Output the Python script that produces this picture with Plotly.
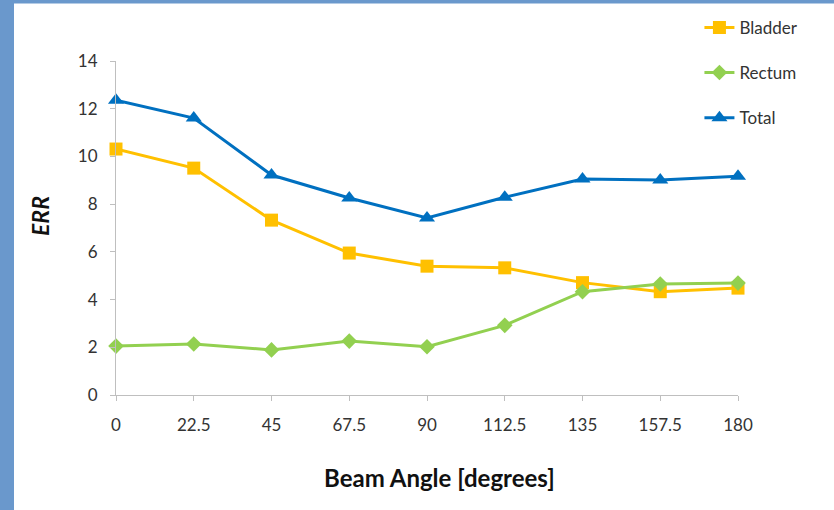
import plotly.graph_objects as go

angles = [0, 22.5, 45, 67.5, 90, 112.5, 135, 157.5, 180]
angle_labels = ["0", "22.5", "45", "67.5", "90", "112.5", "135", "157.5", "180"]
bladder = [10.31, 9.51, 7.33, 5.95, 5.40, 5.33, 4.71, 4.33, 4.48]
rectum = [2.05, 2.14, 1.89, 2.26, 2.02, 2.92, 4.33, 4.65, 4.69]
total = [12.36, 11.61, 9.22, 8.26, 7.42, 8.29, 9.05, 9.01, 9.17]

FONT = "Lato, sans-serif"

fig = go.Figure()
series = [
    ("Bladder", bladder, "#FFC000", "square", 13),
    ("Rectum", rectum, "#92D050", "diamond", 12),
    ("Total", total, "#0070C0", "triangle-up", 14),
]
for name, vals, col, sym, sz in series:
    fig.add_trace(go.Scatter(
        x=angles, y=vals, name=name, legendgroup=name,
        mode="lines+markers",
        line=dict(color=col, width=3),
        marker=dict(color=col, symbol=sym, size=sz),
        cliponaxis=False,
    ))

fig.update_layout(
    width=834, height=510,
    margin=dict(l=116, r=96, t=61, b=115, autoexpand=False),
    paper_bgcolor="white", plot_bgcolor="white",
    font=dict(family=FONT, size=17, color="#333333"),
    showlegend=True,
    legend=dict(x=0.938, y=1.153, xanchor="left", yanchor="top",
                font=dict(size=17, color="#333333"),
                tracegroupgap=20, bgcolor="rgba(0,0,0,0)"),
    xaxis=dict(range=[0, 180], tickvals=angles, ticktext=angle_labels,
               showgrid=False, zeroline=False, showline=True,
               linecolor="#BFBFBF", linewidth=1, ticks="outside",
               ticklen=5, tickcolor="#BFBFBF", ticklabelstandoff=10),
    yaxis=dict(range=[0, 14], dtick=2, showgrid=False, zeroline=False,
               showline=True, linecolor="#BFBFBF", linewidth=1,
               ticks="outside", ticklen=5, tickcolor="#BFBFBF", ticklabelstandoff=9),
    annotations=[
        dict(text="<b>Beam Angle [degrees]</b>", xref="paper", yref="paper",
             x=(439-116)/622, y=(395-477)/334, xanchor="center", yanchor="middle",
             showarrow=False, font=dict(size=24, color="#111111")),
        dict(text="<b><i>ERR</i></b>", xref="paper", yref="paper",
             x=(40-116)/622, y=(395-216)/334, xanchor="center", yanchor="middle",
             textangle=-90, showarrow=False, font=dict(size=23, color="#111111")),
    ],
    shapes=[
        dict(type="rect", xref="paper", yref="paper", x0=-116/622 - 0.01, x1=(14-116)/622,
             y0=-115/334 - 0.01, y1=(510-115)/334 + 0.01, fillcolor="#6A98CC", line_width=0, layer="below"),
        dict(type="rect", xref="paper", yref="paper", x0=-116/622 - 0.01, x1=1 + 96/622 + 0.01,
             y0=(395-3.5)/334, y1=395/334 + 0.01, fillcolor="#6A98CC", line_width=0, layer="below"),
    ],
)

fig.write_html("out.html", config={"displayModeBar": False},
               post_script="document.body.style.margin='0';document.body.style.padding='0';")
